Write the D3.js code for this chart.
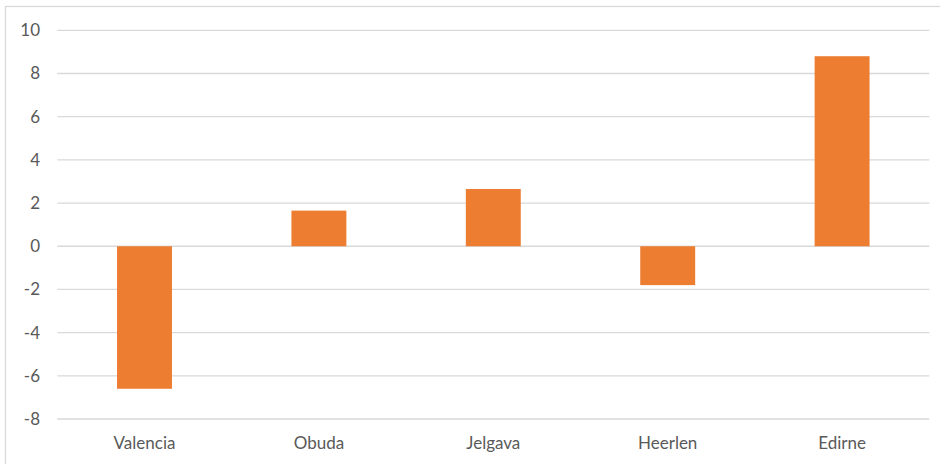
<!DOCTYPE html>
<html>
<head>
<meta charset="utf-8">
<script src="https://cdn.jsdelivr.net/npm/d3@7"></script>
<style>
  html, body { margin: 0; padding: 0; background: #fff; }
  svg { display: block; }
  text { font-family: Lato, "Open Sans", sans-serif; fill: #595959; }
</style>
</head>
<body>
<svg id="chart" width="940" height="464"></svg>
<script>
const categories = ["Valencia", "Obuda", "Jelgava", "Heerlen", "Edirne"];
const values = [-6.6, 1.65, 2.65, -1.8, 8.8];
const yTicks = [-8, -6, -4, -2, 0, 2, 4, 6, 8, 10];

const svg = d3.select("#chart");
const W = 940, H = 464;

// chart border
svg.append("rect")
  .attr("x", 5.5).attr("y", 6.5)
  .attr("width", W).attr("height", H)
  .attr("fill", "none").attr("stroke", "#d9d9d9").attr("stroke-width", 1.3);

const x = d3.scaleBand().domain(categories).range([57.3, 929.3]).padding(0);
const y = d3.scaleLinear().domain([-8, 10]).range([419, 30.3]);

// gridlines
svg.append("g").selectAll("line").data(yTicks).join("line")
  .attr("x1", 57.3).attr("x2", 929.3)
  .attr("y1", d => y(d)).attr("y2", d => y(d))
  .attr("stroke", "#d9d9d9").attr("stroke-width", 1.3);

// y axis labels
const yAxis = d3.axisLeft(y).tickValues(yTicks).tickSize(0).tickPadding(0).tickFormat(d => String(d));
const gy = svg.append("g").attr("transform", "translate(40,0)").call(yAxis);
gy.select(".domain").remove();
gy.selectAll("text").attr("font-size", 17).style("font-family", "Lato, 'Open Sans', sans-serif").attr("fill", "#595959");

// bars
const barW = x.bandwidth() * 0.315;
svg.append("g").selectAll("rect").data(values).join("rect")
  .attr("x", (d, i) => x(categories[i]) + x.bandwidth() / 2 - barW / 2)
  .attr("width", barW)
  .attr("y", d => Math.min(y(d), y(0)))
  .attr("height", d => Math.abs(y(d) - y(0)))
  .attr("fill", "#ED7D31");

// x axis labels
const xAxis = d3.axisBottom(x).tickSize(0).tickPadding(0);
const gx = svg.append("g").attr("transform", "translate(0,437)").call(xAxis);
gx.select(".domain").remove();
gx.selectAll("text").attr("font-size", 17).attr("dy", "0.71em").style("font-family", "Lato, 'Open Sans', sans-serif").attr("fill", "#595959");
</script>
</body>
</html>
